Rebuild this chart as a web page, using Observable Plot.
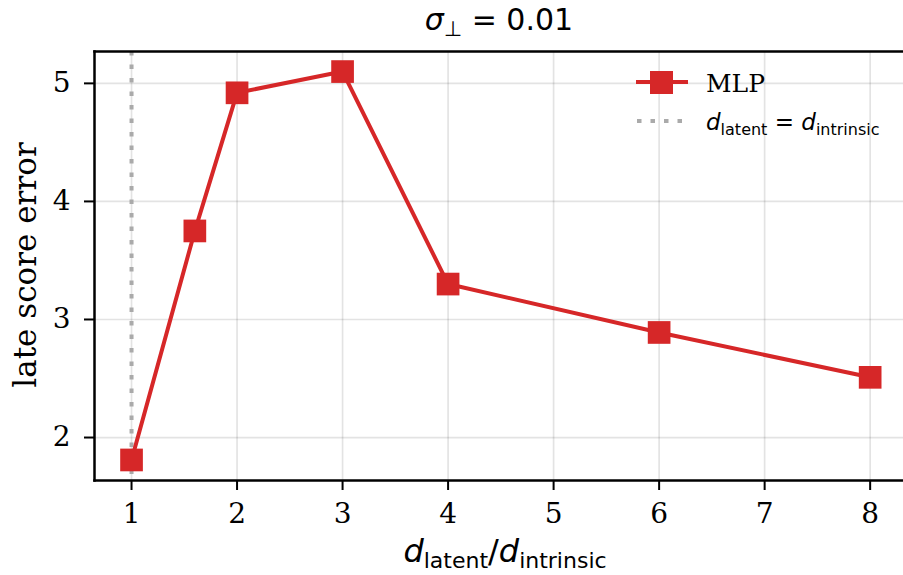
<!DOCTYPE html>
<html><head><meta charset="utf-8">
<script src="https://cdn.jsdelivr.net/npm/d3@7"></script>
<script src="https://cdn.jsdelivr.net/npm/@observablehq/plot@0.6"></script>
<style>body{margin:0;background:#fff;overflow:hidden}</style>
</head><body><div id="chart"></div>
<script>
const ratios = [1, 1.6, 2, 3, 4, 6, 8];
const mlpError = [1.81, 3.75, 4.92, 5.10, 3.30, 2.89, 2.51];
const xTicks = [1, 2, 3, 4, 5, 6, 7, 8];
const yTicks = [2, 3, 4, 5];
const referenceX = [1];
const data = ratios.map((r, i) => ({r, e: mlpError[i]}));

const red = "#d62728";
const serif = "DejaVu Serif";
const sans = "DejaVu Sans";

const chart = Plot.plot({
  width: 903, height: 575,
  marginLeft: 94, marginRight: 0, marginTop: 51, marginBottom: 95,
  style: {fontFamily: serif, fontSize: "28px", background: "#fff", color: "#000"},
  x: {domain: [0.649, 8.316]},
  y: {domain: [1.636, 5.27]},
  marks: [
    Plot.gridX(xTicks, {stroke: "#000", strokeOpacity: 0.11, strokeWidth: 1.7}),
    Plot.gridY(yTicks, {stroke: "#000", strokeOpacity: 0.11, strokeWidth: 1.7}),
    Plot.ruleX(referenceX, {stroke: "#aaaaaa", strokeWidth: 4, strokeDasharray: "4.5,9"}),
    Plot.line(data, {x: "r", y: "e", stroke: red, strokeWidth: 4}),
    Plot.dot(data, {x: "r", y: "e", symbol: "square", r: 12.8, fill: red, stroke: "none"}),
    Plot.axisX(xTicks, {tickSize: 10, tickPadding: 13, strokeWidth: 2, label: null, tickFormat: d => String(d), fontSize: 28, fontFamily: serif}),
    Plot.axisY(yTicks, {tickSize: 10, tickPadding: 14, strokeWidth: 2, label: null, tickFormat: d => String(d), fontSize: 28, fontFamily: serif}),
    Plot.frame({anchor: "left", strokeWidth: 2.5}),
    Plot.frame({anchor: "bottom", strokeWidth: 2.5}),
    Plot.frame({anchor: "top", strokeWidth: 2.5})
  ]
});
document.getElementById("chart").appendChild(chart);

const svg = d3.select(chart);
function txt(sel, x, y, family, size, anchor) {
  return sel.append("text").attr("x", x).attr("y", y)
    .style("font-family", family).style("font-size", size + "px")
    .style("text-anchor", anchor).attr("fill", "#000");
}
// Title
const t = txt(svg, 499, 30, sans, 30, "middle");
t.append("tspan").style("font-style", "italic").text("σ");
t.append("tspan").style("font-size", "21px").attr("dy", 6).text("⊥");
t.append("tspan").attr("dy", -6).text(" = 0.01");

// X label
const xl = txt(svg, 505, 562, sans, 32, "middle");
xl.append("tspan").style("font-style", "italic").text("d");
xl.append("tspan").style("font-size", "22px").attr("dy", 6).text("latent");
xl.append("tspan").attr("dy", -6).text("/");
xl.append("tspan").style("font-style", "italic").text("d");
xl.append("tspan").style("font-size", "22px").attr("dy", 6).text("intrinsic");

// Y label
svg.append("text").attr("transform", "translate(36,265) rotate(-90)")
  .style("text-anchor", "middle").style("font-family", serif).style("font-size", "31px")
  .attr("fill", "#000").text("late score error");

// Legend
const lg = svg.append("g");
lg.append("line").attr("x1", 636).attr("x2", 688).attr("y1", 82).attr("y2", 82)
  .attr("stroke", red).attr("stroke-width", 4);
lg.append("rect").attr("x", 650).attr("y", 71).attr("width", 23).attr("height", 23).attr("fill", red);
txt(lg, 706, 92, serif, 25, "start").text("MLP");
lg.append("line").attr("x1", 637).attr("x2", 686).attr("y1", 121).attr("y2", 121)
  .attr("stroke", "#aaaaaa").attr("stroke-width", 4).attr("stroke-dasharray", "4.5,9");
const l2 = txt(lg, 706, 130, sans, 23, "start");
l2.append("tspan").style("font-style", "italic").text("d");
l2.append("tspan").style("font-size", "16px").attr("dy", 5).text("latent");
l2.append("tspan").attr("dy", -5).text(" = ");
l2.append("tspan").style("font-style", "italic").text("d");
l2.append("tspan").style("font-size", "16px").attr("dy", 5).text("intrinsic");
</script></body></html>
